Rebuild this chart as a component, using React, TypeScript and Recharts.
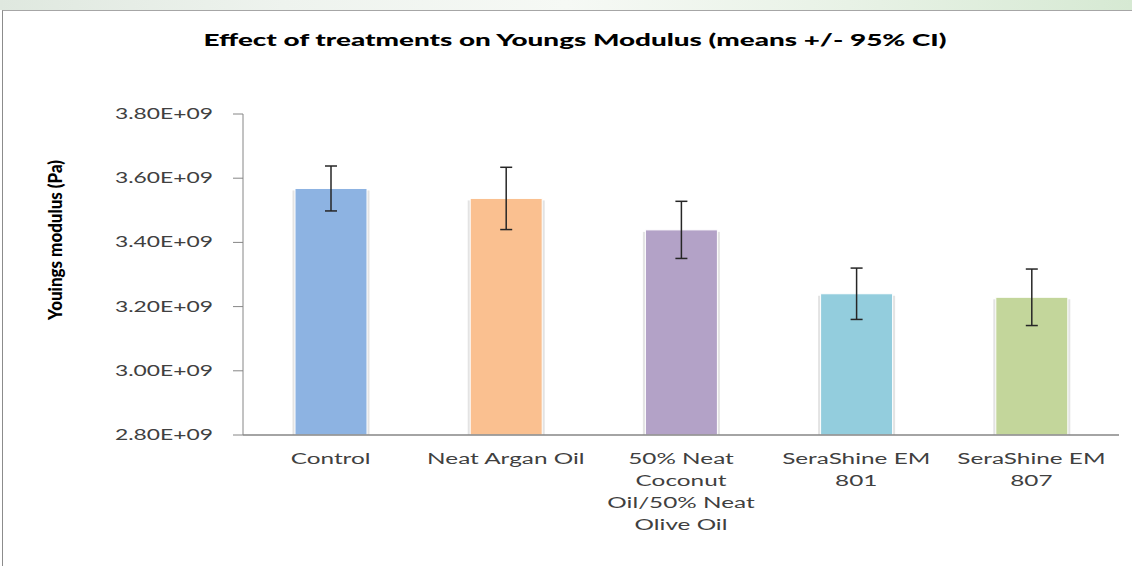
import React from 'react'
import { Bar, BarChart, Cell, ErrorBar, XAxis, YAxis } from 'recharts'

const categories = [
  'Control',
  'Neat Argan Oil',
  '50% Neat Coconut Oil/50% Neat Olive Oil',
  'SeraShine EM 801',
  'SeraShine EM 807',
]

// wrapped tick labels, as Excel broke them
const categoryLines = [
  ['Control'],
  ['Neat Argan Oil'],
  ['50% Neat', 'Coconut', 'Oil/50% Neat', 'Olive Oil'],
  ['SeraShine EM', '801'],
  ['SeraShine EM', '807'],
]

const means = [3.568e9, 3.537e9, 3.439e9, 3.24e9, 3.229e9]
const ci95 = [0.07e9, 0.097e9, 0.089e9, 0.08e9, 0.088e9]
const barColors = ['#8DB3E2', '#FAC090', '#B3A2C7', '#93CDDD', '#C3D69B']
const yTicks = [2.8e9, 3.0e9, 3.2e9, 3.4e9, 3.6e9, 3.8e9]

const data = categories.map((name, i) => ({ name, mean: means[i], ci: ci95[i] }))

const AXIS = '#868686'
const TEXT = '#404040'
const FONT = 'Lato, "Open Sans", sans-serif'
const SX = 1.52

function fmtSci(v: number) {
  return `${(v / 1e9).toFixed(2)}E+09`
}

function YTick(props: { x?: number; y?: number; payload?: { value: number } }) {
  const { x = 0, y = 0, payload } = props
  return (
    <text
      x={x}
      y={y}
      dy={5}
      textAnchor="end"
      fontFamily={FONT}
      fontSize={15}
      fill={TEXT}
      textLength={98}
      lengthAdjust="spacingAndGlyphs"
    >
      {fmtSci(payload?.value ?? 0)}
    </text>
  )
}

function CategoryTick(props: { x?: number; y?: number; payload?: { value: string } }) {
  const { x = 0, y = 0, payload } = props
  const idx = categories.indexOf(payload?.value ?? '')
  const lines = categoryLines[idx] ?? [payload?.value ?? '']
  return (
    <g transform={`translate(${x},${y})`}>
      <g transform={`scale(${SX},1)`}>
        {lines.map((line, i) => (
          <text
            key={i}
            x={0}
            y={27 + i * 22}
            textAnchor="middle"
            fontFamily={FONT}
            fontSize={16}
            fill={TEXT}
          >
            {line}
          </text>
        ))}
      </g>
    </g>
  )
}

function ShadowBar(props: { x?: number; y?: number; width?: number; height?: number; fill?: string }) {
  const { x = 0, y = 0, width = 0, height = 0, fill } = props
  return (
    <g>
      <rect x={x - 2.5} y={y + 2} width={width + 5} height={height - 2} fill="#e3e3e3" />
      <rect x={x} y={y} width={width} height={height} fill={fill} stroke="#ffffff" strokeWidth={1} />
    </g>
  )
}

export default function App() {
  return (
    <div
      style={{
        position: 'absolute',
        left: 0,
        top: 0,
        width: 1132,
        height: 566,
        background: '#ffffff',
        overflow: 'hidden',
      }}
    >
      <div
        style={{
          position: 'absolute',
          left: 0,
          top: 0,
          width: 1132,
          height: 10,
          background: 'linear-gradient(90deg, #dfe8df 0%, #eef3ee 25%, #f6f9f5 50%, #e8f2e6 75%, #d6e9d3 100%)',
        }}
      />
      <div
        style={{
          position: 'absolute',
          left: 2,
          top: 10,
          width: 1130,
          height: 556,
          borderLeft: '1px solid #8c8c8c',
          borderTop: '1px solid #a6a6a6',
        }}
      />
      <BarChart
        width={1132}
        height={566}
        data={data}
        margin={{ top: 114, right: 13, bottom: 0, left: 0 }}
        style={{ position: 'absolute', left: 0, top: 0 }}
      >
        <XAxis
          dataKey="name"
          height={131}
          axisLine={{ stroke: AXIS, strokeWidth: 1.5 }}
          tickLine={false}
          tickSize={0}
          tick={<CategoryTick />}
          interval={0}
        />
        <YAxis
          width={243}
          domain={[2.8e9, 3.8e9]}
          ticks={yTicks}
          axisLine={{ stroke: AXIS }}
          tickLine={{ stroke: AXIS }}
          tickSize={10}
          tickMargin={20}
          tick={<YTick />}
          allowDataOverflow
        />
        <Bar dataKey="mean" barSize={72} isAnimationActive={false} shape={<ShadowBar />}>
          {data.map((d, i) => (
            <Cell key={d.name} fill={barColors[i]} />
          ))}
          <ErrorBar dataKey="ci" width={6} stroke="#262626" strokeWidth={1.5} isAnimationActive={false} />
        </Bar>
      </BarChart>
      <svg width={1132} height={566} style={{ position: 'absolute', left: 0, top: 0, pointerEvents: 'none' }}>
        <text
          x={575}
          y={46}
          textAnchor="middle"
          fontFamily={FONT}
          fontWeight={900}
          fontSize={16}
          fill="#000000"
          textLength={743}
          lengthAdjust="spacingAndGlyphs"
        >
          Effect of treatments  on Youngs Modulus (means +/- 95% CI)
        </text>
        <text
          transform="translate(62,240) rotate(-90)"
          textAnchor="middle"
          fontFamily={FONT}
          fontWeight={900}
          fontSize={18}
          fill="#000000"
          textLength={160}
          lengthAdjust="spacingAndGlyphs"
        >
          Youings modulus (Pa)
        </text>
      </svg>
    </div>
  )
}
